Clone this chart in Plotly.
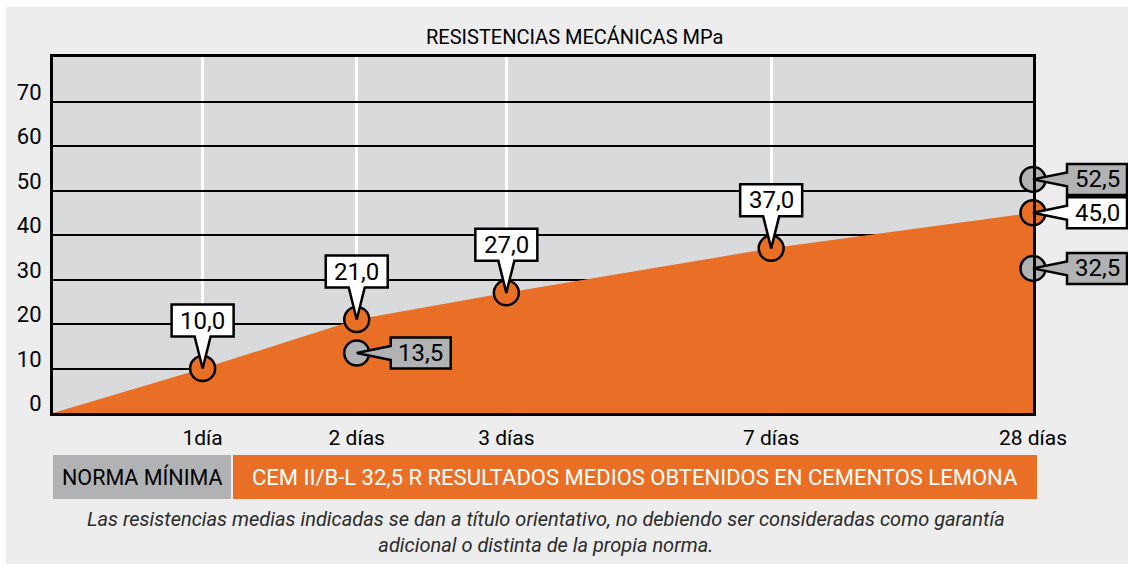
import plotly.graph_objects as go

# ---------------- data ----------------
categories = ["1día", "2 días", "3 días", "7 días", "28 días"]
cem_values = [10.0, 21.0, 27.0, 37.0, 45.0]          # CEM II/B-L 32,5 R (orange)
norma_categories = ["2 días", "28 días", "28 días"]    # NORMA MÍNIMA (grey)
norma_values = [13.5, 32.5, 52.5]
y_ticks = [0, 10, 20, 30, 40, 50, 60, 70]

title_text = "RESISTENCIAS MECÁNICAS MPa"
band_left_text = "NORMA MÍNIMA"
band_right_text = "CEM II/B-L 32,5 R RESULTADOS MEDIOS OBTENIDOS EN CEMENTOS LEMONA"
note_lines = [
    "Las resistencias medias indicadas se dan a título orientativo, no debiendo ser consideradas como garantía",
    "adicional o distinta de la propia norma.",
]

# ---------------- layout / style ----------------
W, H = 1128, 564
L, R, T, B = 53, 1033, 57, 413
x_pos = [1.0, 2.03, 3.03, 4.8, 6.55]     # horizontal placement of the category columns
pos = dict(zip(categories, x_pos))
X_MAX = x_pos[-1]

ORANGE = "#EA6F26"
GREY = "#B1B2B4"
PLOT_BG = "#D9DADC"
PANEL = "#ECEDEC"
FONT = "Roboto"


def fx(p):
    return (p - L) / (R - L)


def fy(p):
    return (B - p) / (B - T)


def fmt(v):
    return f"{v:.1f}".replace(".", ",")


fig = go.Figure()

# orange area
fig.add_trace(go.Scatter(
    x=[0] + x_pos, y=[0] + cem_values, mode="lines",
    line=dict(width=0, color=ORANGE), fill="tozeroy", fillcolor=ORANGE,
    hoverinfo="skip", showlegend=False))

# markers on overlay axes (so they sit above the grid)
fig.add_trace(go.Scatter(
    x=x_pos, y=cem_values, mode="markers", xaxis="x2", yaxis="y2",
    marker=dict(size=25, color=ORANGE, line=dict(color="black", width=2.5)),
    cliponaxis=False, showlegend=False, hoverinfo="skip"))
fig.add_trace(go.Scatter(
    x=[pos[c] for c in norma_categories], y=norma_values, mode="markers",
    xaxis="x2", yaxis="y2",
    marker=dict(size=25, color=GREY, line=dict(color="black", width=2.5)),
    cliponaxis=False, showlegend=False, hoverinfo="skip"))

shapes = []
annotations = []

BUBBLE_ABOVE = "M 0,0 L 8,32 L 31,32 L 31,64 L -31,64 L -31,32 L -8,32 Z"
BUBBLE_RIGHT = "M 0,0 L 34,7 L 34,15.5 L 94,15.5 L 94,-15.5 L 34,-15.5 L 34,-7 Z"


def add_callout(cat, val, fill, side):
    last = cat == categories[-1]
    if last:
        xref, xanchor = "x domain", 1.0
    else:
        xref, xanchor = "x", pos[cat]
    shapes.append(dict(
        type="path", xref=xref, yref="y", xsizemode="pixel", ysizemode="pixel",
        xanchor=xanchor, yanchor=val,
        path=BUBBLE_ABOVE if side == "above" else BUBBLE_RIGHT,
        fillcolor=fill, line=dict(color="black", width=2.5), layer="above"))
    ann = dict(x=pos[cat], y=val, xref="x", yref="y", text=fmt(val), showarrow=False,
               font=dict(family=FONT, size=24, color="black"))
    if side == "above":
        ann.update(yshift=48)
    else:
        ann.update(xshift=64)
    annotations.append(ann)


for c, v in zip(categories, cem_values):
    add_callout(c, v, "white", "right" if c == categories[-1] else "above")
for c, v in zip(norma_categories, norma_values):
    add_callout(c, v, GREY, "right")

# white page margin strips (top and left)
shapes.append(dict(type="rect", xref="paper", yref="paper", x0=fx(0), x1=fx(W), y0=fy(0), y1=fy(7),
                   fillcolor="white", line=dict(width=0), layer="below"))
shapes.append(dict(type="rect", xref="paper", yref="paper", x0=fx(0), x1=fx(6), y0=fy(0), y1=fy(H),
                   fillcolor="white", line=dict(width=0), layer="below"))

# bottom legend band
shapes.append(dict(type="rect", xref="paper", yref="paper", x0=fx(53), x1=fx(231), y0=fy(499), y1=fy(455),
                   fillcolor=GREY, line=dict(width=0), layer="below"))
shapes.append(dict(type="rect", xref="paper", yref="paper", x0=fx(233), x1=fx(1037), y0=fy(499), y1=fy(455),
                   fillcolor=ORANGE, line=dict(width=0), layer="below"))
annotations.append(dict(xref="paper", yref="paper", x=fx(142), y=fy(477), text=band_left_text,
                        showarrow=False, xanchor="center", yanchor="middle",
                        font=dict(family=FONT, size=21.5, color="black")))
annotations.append(dict(xref="paper", yref="paper", x=fx(635), y=fy(477), text=band_right_text,
                        showarrow=False, xanchor="center", yanchor="middle",
                        font=dict(family=FONT, size=22, color="white")))

# title
annotations.append(dict(xref="paper", yref="paper", x=fx(574), y=fy(37), text=title_text,
                        showarrow=False, xanchor="center", yanchor="middle",
                        font=dict(family=FONT, size=20, color="black")))

# note
annotations.append(dict(xref="paper", yref="paper", x=fx(546), y=fy(532),
                        text="<br>".join(f"<i>{t}</i>" for t in note_lines),
                        showarrow=False, xanchor="center", yanchor="middle", align="center",
                        font=dict(family=FONT, size=20, color="#2b2b2b")))

fig.update_layout(
    width=W, height=H,
    margin=dict(l=L, r=W - R, t=T, b=H - B, pad=0),
    paper_bgcolor=PANEL, plot_bgcolor=PLOT_BG,
    font=dict(family=FONT, color="black"),
    showlegend=False,
    shapes=shapes, annotations=annotations,
    xaxis=dict(range=[0, X_MAX], tickvals=x_pos, ticktext=categories,
               showgrid=True, gridcolor="white", gridwidth=2.5, layer="above traces",
               zeroline=False, showline=True, mirror=True, linecolor="black", linewidth=3,
               ticks="", ticklabelstandoff=4, tickfont=dict(family=FONT, size=21, color="black"),
               fixedrange=True),
    yaxis=dict(range=[0, 80], tickvals=y_ticks, ticktext=[str(t) for t in y_ticks],
               showgrid=True, gridcolor="black", gridwidth=1.5, layer="above traces",
               zeroline=False, showline=True, mirror=True, linecolor="black", linewidth=3,
               ticks="", ticklabelposition="outside top", ticklabelstandoff=4, ticklabelshift=6,
               tickfont=dict(family=FONT, size=22, color="black"), fixedrange=True),
    xaxis2=dict(range=[0, X_MAX], overlaying="x", visible=False, fixedrange=True),
    yaxis2=dict(range=[0, 80], overlaying="y", visible=False, fixedrange=True),
)

fig.write_html("out.html", config={"displayModeBar": False},
               post_script="document.body.style.margin='0';")
